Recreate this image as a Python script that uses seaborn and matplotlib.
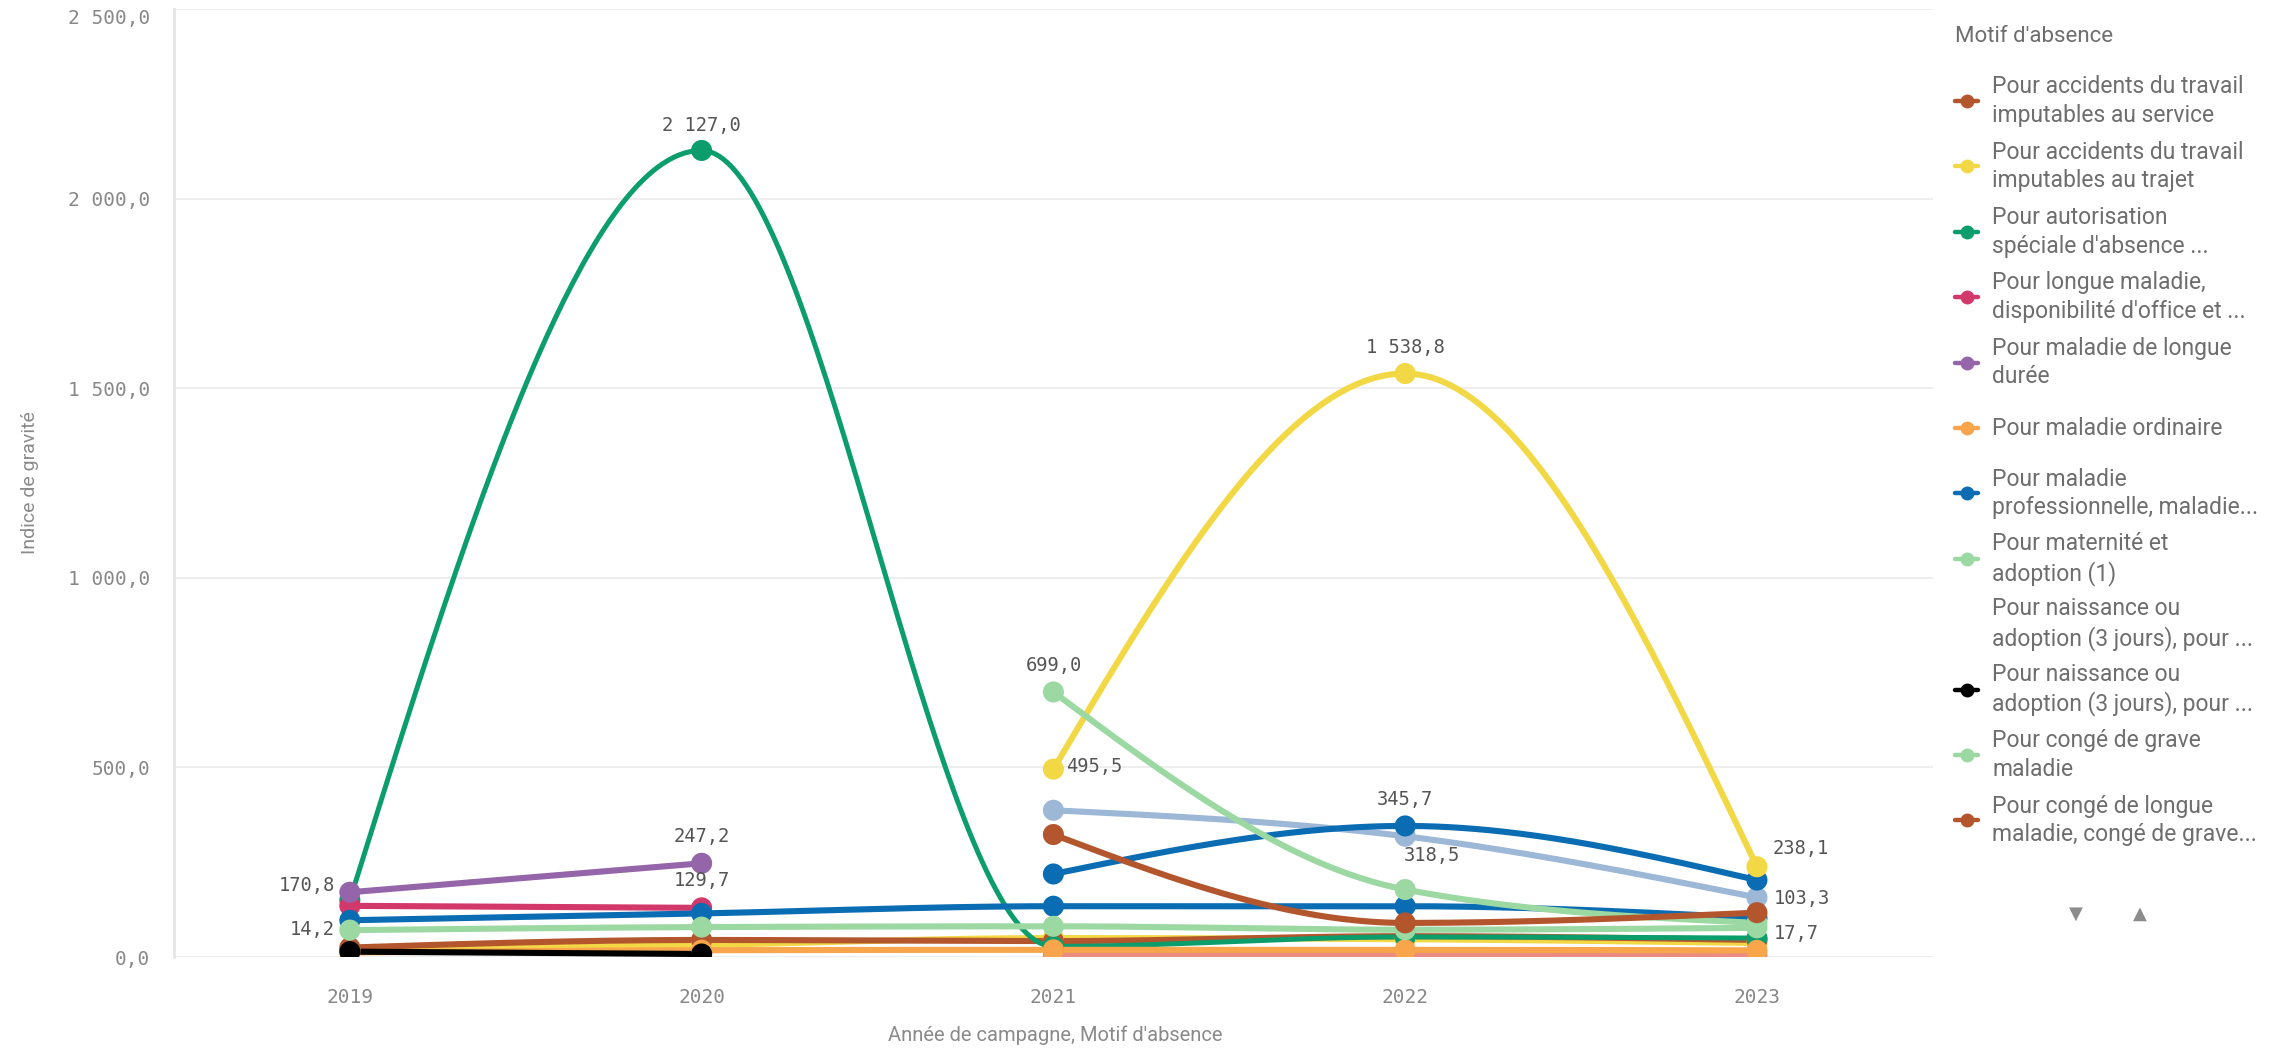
import numpy as np
import pandas as pd
import matplotlib
matplotlib.use("Agg")
from matplotlib import pyplot as plt
from matplotlib.lines import Line2D
from matplotlib.ticker import FuncFormatter
import seaborn as sns

nan = np.nan
years = ['2019', '2020', '2021', '2022', '2023']

# Indice de gravité par motif d'absence
accidents_service = [25, 45, 42, 55, 45]
accidents_trajet = [nan, nan, 495.5, 1538.8, 238.1]
autorisation_speciale = [150, 2127.0, 28, 53, 50]
longue_maladie_dispo = [135, 129.7, nan, nan, nan]
maladie_longue_duree = [170.8, 247.2, nan, nan, nan]
maladie_ordinaire = [12, 18, 19, 19, 17.7]
maladie_pro = [97, 115, 134, 134, 103.3]
maternite_adoption = [71, 79, 81, 72, 77]
naissance_3j_a = [nan, nan, nan, nan, nan]
naissance_3j_b = [14.2, 8, nan, nan, nan]
grave_maladie = [nan, nan, 699.0, 178, 90]
longue_maladie_grave = [nan, nan, 323, 90, 117]
# series hidden in the scrolled part of the legend
autre_jaune = [20, 32, 50, 47, 37]
autre_bleu = [nan, nan, 219, 345.7, 203]
autre_bleu_gris = [nan, nan, 387, 318.5, 157]
autre_saumon = [nan, nan, 5, 5, 5]

legend_names = [
    "Pour accidents du travail\nimputables au service",
    "Pour accidents du travail\nimputables au trajet",
    "Pour autorisation\nspéciale d'absence ...",
    "Pour longue maladie,\ndisponibilité d'office et ...",
    "Pour maladie de longue\ndurée",
    "Pour maladie ordinaire",
    "Pour maladie\nprofessionnelle, maladie...",
    "Pour maternité et\nadoption (1)",
    "Pour naissance ou\nadoption (3 jours), pour ...",
    "Pour naissance ou\nadoption (3 jours), pour ...",
    "Pour congé de grave\nmaladie",
    "Pour congé de longue\nmaladie, congé de grave...",
]

BROWN, YELLOW, GREEN = '#b4562d', '#f3d845', '#0b9d6b'
PINK, PURPLE, ORANGE = '#d3386a', '#9465a8', '#f8a54b'
BLUE, LGREEN, BLACK = '#0a6cb3', '#9bd8a2', '#000000'
STEEL, SALMON = '#9db7d7', '#ea8c82'

series = [
    (accidents_service, BROWN), (accidents_trajet, YELLOW),
    (autorisation_speciale, GREEN), (longue_maladie_dispo, PINK),
    (maladie_longue_duree, PURPLE), (maladie_ordinaire, ORANGE),
    (maladie_pro, BLUE), (maternite_adoption, LGREEN),
    (naissance_3j_a, 'white'), (naissance_3j_b, BLACK),
    (grave_maladie, LGREEN), (longue_maladie_grave, BROWN),
]
hidden = [(autre_saumon, SALMON), (autre_jaune, YELLOW),
          (autre_bleu_gris, STEEL), (autre_bleu, BLUE)]


def monotone(xs, ys, n=80):
    # monotone cubic rendering of a line (like the smooth lines of the source tool)
    xs, ys = np.asarray(xs, float), np.asarray(ys, float)
    if len(xs) < 3:
        return xs, ys
    h = np.diff(xs)
    s = np.diff(ys) / h
    m = np.zeros(len(xs))
    for i in range(1, len(xs) - 1):
        if s[i - 1] * s[i] <= 0:
            m[i] = 0
        else:
            p = (s[i - 1] * h[i] + s[i] * h[i - 1]) / (h[i - 1] + h[i])
            m[i] = np.sign(s[i]) * 2 * min(abs(s[i - 1]), abs(s[i]), 0.5 * abs(p))
    m[0] = (3 * s[0] - m[1]) / 2
    m[-1] = (3 * s[-1] - m[-2]) / 2
    cx, cy = [], []
    for i in range(len(xs) - 1):
        t = np.linspace(0, 1, n)
        h00 = 2 * t**3 - 3 * t**2 + 1
        h10 = t**3 - 2 * t**2 + t
        h01 = -2 * t**3 + 3 * t**2
        h11 = t**3 - t**2
        cx.append(xs[i] + t * h[i])
        cy.append(h00 * ys[i] + h10 * h[i] * m[i] + h01 * ys[i + 1] + h11 * h[i] * m[i + 1])
    return np.concatenate(cx), np.concatenate(cy)


sns.set_style("white")
plt.rcParams['font.family'] = ['Roboto', 'DejaVu Sans']

fig = plt.figure(figsize=(22.71, 10.48), dpi=100)
ax = fig.add_axes([0.0766, 0.0868, 0.7745, 0.9046])

idx = np.arange(len(years))
for vals, color in hidden + series:
    if color == 'white':
        continue
    v = np.asarray(vals, float)
    ok = ~np.isnan(v)
    cx, cy = monotone(idx[ok], v[ok])
    lw = 3.6 if color == GREEN else 4.4
    sns.lineplot(x=cx, y=cy, ax=ax, color=color, linewidth=lw, sort=False, estimator=None)
    sns.scatterplot(x=idx[ok], y=v[ok], ax=ax, color=color, s=230, edgecolor='none',
                    linewidth=0, zorder=3)

# value labels: (series, year index, offset in points, alignment)
labels = [
    (autorisation_speciale, 1, (0, 18), 'center'),
    (accidents_trajet, 3, (0, 19), 'center'),
    (grave_maladie, 2, (0, 19), 'center'),
    (accidents_trajet, 2, (9, 2), 'left'),
    (autre_bleu, 3, (0, 19), 'center'),
    (autre_bleu_gris, 3, (19, -14), 'center'),
    (maladie_longue_duree, 1, (0, 19), 'center'),
    (longue_maladie_dispo, 1, (0, 20), 'center'),
    (maladie_longue_duree, 0, (-11, 5), 'right'),
    (naissance_3j_b, 0, (-11, 16), 'right'),
    (accidents_trajet, 4, (11, 13), 'left'),
    (maladie_pro, 4, (12, 14), 'left'),
    (maladie_ordinaire, 4, (12, 12), 'left'),
]
for vals, i, off, ha in labels:
    txt = f"{vals[i]:,.1f}".replace(',', ' ').replace('.', ',')
    ax.annotate(txt, (i, vals[i]), xytext=off, textcoords='offset points',
                ha=ha, va='center', fontsize=13.5, color='#555555',
                family='DejaVu Sans Mono', zorder=5)

ax.set_xlim(-0.5, 4.5)
ax.set_ylim(0, 2500)
ax.set_xticks(idx)
ax.set_xticklabels(years)
ax.set_yticks([0, 500, 1000, 1500, 2000, 2500])
ax.yaxis.set_major_formatter(FuncFormatter(
    lambda v, p: f"{v:,.1f}".replace(',', ' ').replace('.', ',')))
for lab in ax.get_xticklabels() + ax.get_yticklabels():
    lab.set_family('DejaVu Sans Mono')
ax.yaxis.get_major_ticks()[-1].label1.set_va('top')
ax.tick_params(axis='both', length=0, labelsize=14, labelcolor='#888888')
ax.tick_params(axis='x', pad=22)
ax.tick_params(axis='y', pad=17)
ax.grid(axis='y', color='#ebebeb', lw=1.2)
ax.set_axisbelow(True)
for side in ['top', 'right', 'bottom']:
    ax.spines[side].set_visible(False)
ax.spines['left'].set_color('#e6e6e6')
ax.spines['left'].set_linewidth(2)

ax.set_ylabel("Indice de gravité", fontsize=14, color='#8a8a8a')
ax.yaxis.set_label_coords(-0.077, 0.5)
ax.set_xlabel("Année de campagne, Motif d'absence", fontsize=14.5, color='#8a8a8a',
              va='center')
ax.xaxis.set_label_coords(0.501, -0.083)

# legend drawn by hand on the right
W, H = 2271, 1048
fig.text(1955 / W, 1 - 36 / H, "Motif d'absence", fontsize=16, color='#6e6e6e',
         va='center', ha='left')
for k, (name, (vals, color)) in enumerate(zip(legend_names, series)):
    yc = 1 - (101 + k * 65.4) / H
    if color != 'white':
        fig.add_artist(Line2D([1955 / W, 1978 / W], [yc, yc], transform=fig.transFigure,
                              color=color, lw=3.2))
        fig.add_artist(Line2D([1966.5 / W], [yc], transform=fig.transFigure,
                              color=color, marker='o', markersize=9, lw=0))
    fig.text(1992 / W, yc, name, fontsize=16.5, color='#6e6e6e', va='center',
             ha='left', linespacing=1.3)
fig.text(2076 / W, 1 - 914 / H, "▼", fontsize=13, color='#8c8c8c', ha='center',
         va='center', family='DejaVu Sans')
fig.text(2140 / W, 1 - 914 / H, "▲", fontsize=13, color='#8c8c8c', ha='center',
         va='center', family='DejaVu Sans')

fig.savefig("out.png", dpi=100)
